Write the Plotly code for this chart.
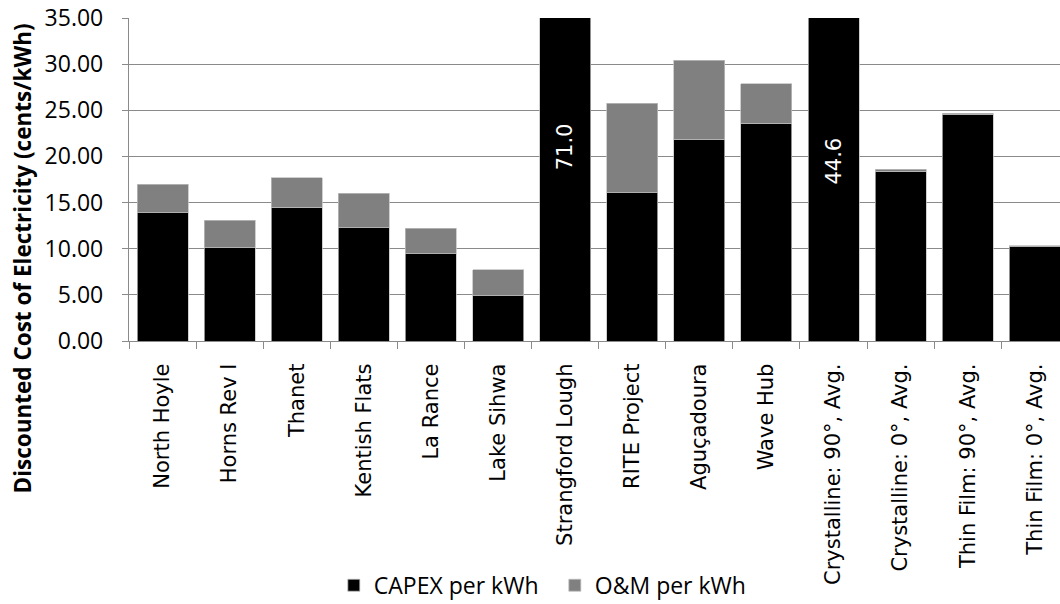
import plotly.graph_objects as go

# Discounted cost of electricity per project, split into capital and O&M parts
categories = [
    "North Hoyle", "Horns Rev I", "Thanet", "Kentish Flats", "La Rance",
    "Lake Sihwa", "Strangford Lough", "RITE Project", "Aguçadoura", "Wave Hub",
    "Crystalline: 90°, Avg.", "Crystalline: 0°, Avg.",
    "Thin Film: 90°, Avg.", "Thin Film: 0°, Avg.",
]
capex_per_kwh = [13.9, 10.1, 14.5, 12.25, 9.45, 4.9, 71.0, 16.05, 21.85, 23.6, 44.6, 18.4, 24.5, 10.2]
om_per_kwh = [3.08, 3.0, 3.2, 3.75, 2.75, 2.8, 0.0, 9.7, 8.55, 4.25, 0.0, 0.2, 0.17, 0.1]
y_ticks = [0, 5, 10, 15, 20, 25, 30, 35]

Y_MAX = 35
GRID = "#8a8a8a"
TICK_FONT = dict(family="Open Sans", size=23, color="#000000")
CAT_FONT = dict(family="DejaVu Sans", size=21, color="#000000")

fig = go.Figure()
fig.add_trace(go.Bar(
    x=categories, y=capex_per_kwh, name="CAPEX per kWh",
    marker=dict(color="#000000", line=dict(color="#bfbfbf", width=0.75)),
))
fig.add_trace(go.Bar(
    x=categories, y=om_per_kwh, name="O&M per kWh",
    marker=dict(color="#808080", line=dict(color="#bfbfbf", width=0.75)),
))

# Bars that run past the axis maximum carry their value as a rotated label
label_heights = {6: 21.0, 10: 19.5}
for i, v in enumerate(capex_per_kwh):
    if v > Y_MAX:
        fig.add_annotation(
            x=categories[i], y=label_heights.get(i, 20.0),
            text=f"{v:.1f}", showarrow=False, textangle=-90,
            font=dict(family="DejaVu Sans", size=21, color="#ffffff"),
            xanchor="center", yanchor="middle",
        )

fig.add_annotation(
    text="<b>Discounted Cost of Electricity (cents/kWh)</b>",
    xref="paper", yref="paper", x=-0.114, y=0.255,
    textangle=-90, showarrow=False, xanchor="center", yanchor="middle",
    font=dict(family="Open Sans", size=22.5, color="#000000"),
)

fig.update_layout(
    width=1060, height=604,
    margin=dict(l=129, r=0, t=18, b=263, autoexpand=False),
    paper_bgcolor="#ffffff", plot_bgcolor="#ffffff",
    barmode="stack", bargap=0.24,
    showlegend=True,
    legend=dict(
        orientation="h", x=0.22, xanchor="left",
        yref="container", y=0.031, yanchor="middle",
        font=TICK_FONT, itemwidth=30, bgcolor="rgba(0,0,0,0)",
        traceorder="normal", entrywidth=176, entrywidthmode="pixels",
    ),
    xaxis=dict(
        type="category", range=[-0.5, 13.375],
        tickangle=-90, tickfont=CAT_FONT,
        ticks="outside", tickson="boundaries", ticklen=7, tickcolor=GRID,
        showline=True, linecolor=GRID, linewidth=1.3,
        showgrid=False, ticklabelstandoff=13, automargin=False,
    ),
    yaxis=dict(
        range=[0, Y_MAX], tickvals=y_ticks, tickformat=".2f",
        tickfont=TICK_FONT,
        ticks="outside", ticklen=6, tickcolor=GRID,
        showline=True, linecolor=GRID, linewidth=1.3,
        showgrid=True, gridcolor=GRID, gridwidth=1.3,
        zeroline=False, ticklabelstandoff=14, automargin=False,
    ),
)

fig.write_html("out.html")
